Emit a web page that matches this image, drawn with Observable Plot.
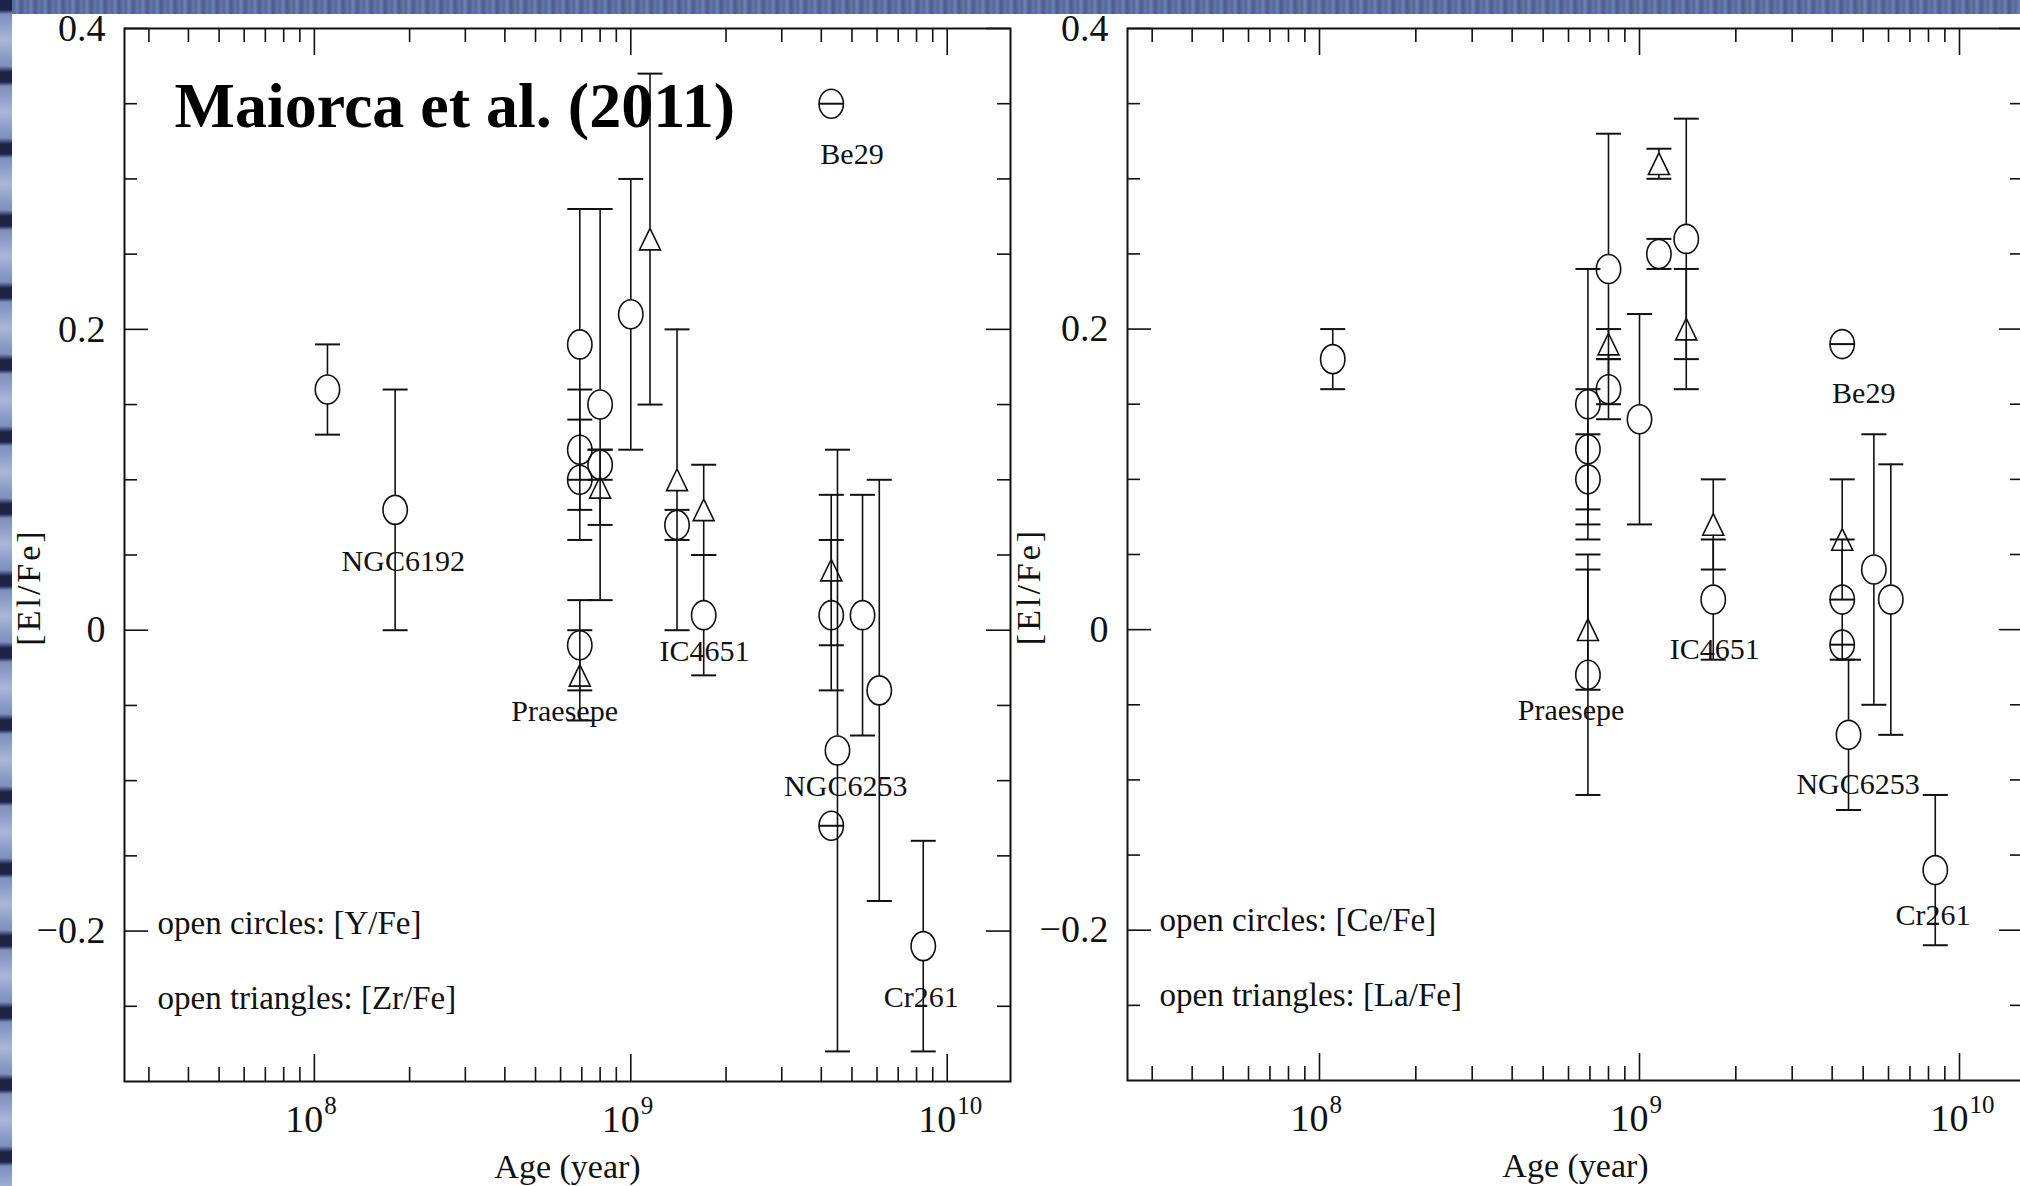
<!DOCTYPE html>
<html>
<head>
<meta charset="utf-8">
<script src="https://cdn.jsdelivr.net/npm/d3@7"></script>
<script src="https://cdn.jsdelivr.net/npm/@observablehq/plot@0.6"></script>
<style>
  html, body { margin: 0; padding: 0; background: #fff; overflow: hidden; }
  #page { position: relative; width: 2020px; height: 1186px; overflow: hidden; background: #fff; }
  #bgTop { position: absolute; left: 0; top: 0; width: 2020px; height: 14px;
    background: repeating-linear-gradient(90deg, #56679c 0px, #7182b5 3px, #4b5b90 7px, #65769f 11px, #56679c 14px); }
  #bgLeft { position: absolute; left: 0; top: 0; width: 12px; height: 1186px;
    background: repeating-linear-gradient(180deg, #1c2547 0px, #1c2547 10px, #7d8dbd 14px, #a9b6d9 40px, #7d8dbd 66px, #1c2547 72px); }
  #left { position: absolute; left: 0; top: 0; width: 1040px; height: 1186px; }
  #right { position: absolute; left: 1000px; top: 0; width: 1030px; height: 1186px; }
</style>
</head>
<body>
<div id="page">
  <div id="left"></div>
  <div id="right"></div>
  <div id="bgTop"></div>
  <div id="bgLeft"></div>
</div>
<script>
// ---------- data: left panel ([Y/Fe] circles, [Zr/Fe] triangles) ----------
const yAges   = [1.1e8, 1.8e8, 6.9e8, 6.9e8, 6.9e8, 6.9e8, 8.0e8, 8.0e8, 1.0e9, 1.4e9, 1.7e9, 4.3e9, 4.3e9, 4.3e9, 4.5e9, 5.4e9, 6.1e9, 8.4e9];
const yFe     = [0.16, 0.08, 0.19, 0.12, 0.10, -0.01, 0.15, 0.11, 0.21, 0.07, 0.01, 0.35, 0.01, -0.13, -0.08, 0.01, -0.04, -0.21];
const yFeErr  = [0.03, 0.08, 0.09, 0.04, 0.04, 0.03, 0.13, 0.01, 0.09, 0.01, 0.04, 0, 0.05, 0, 0.20, 0.08, 0.14, 0.07];
const zrAges  = [6.9e8, 8.0e8, 1.15e9, 1.4e9, 1.7e9, 4.3e9];
const zrFe    = [-0.03, 0.095, 0.26, 0.10, 0.08, 0.04];
const zrFeErr = [0.03, 0.025, 0.11, 0.10, 0.03, 0.05];
const leftNames    = ["NGC6192", "Praesepe", "IC4651", "Be29", "NGC6253", "Cr261"];
const leftNameAges = [1.91e8, 6.18e8, 1.71e9, 5.0e9, 4.78e9, 8.28e9];
const leftNameVals = [0.046, -0.054, -0.014, 0.316, -0.104, -0.244];
const leftLegend   = ["open circles: [Y/Fe]", "open triangles: [Zr/Fe]"];
const leftLegendY  = [-0.195, -0.245];
const titleText    = ["Maiorca et al. (2011)"];

// ---------- data: right panel ([Ce/Fe] circles, [La/Fe] triangles) ----------
const ceAges  = [1.1e8, 6.9e8, 6.9e8, 6.9e8, 6.9e8, 8.0e8, 8.0e8, 1.0e9, 1.15e9, 1.4e9, 1.7e9, 4.3e9, 4.3e9, 4.3e9, 4.5e9, 5.4e9, 6.1e9, 8.4e9];
const ceFe    = [0.18, 0.15, 0.12, 0.10, -0.03, 0.24, 0.16, 0.14, 0.25, 0.26, 0.02, 0.19, 0.02, -0.01, -0.07, 0.04, 0.02, -0.16];
const ceFeErr = [0.02, 0.09, 0.04, 0.03, 0.08, 0.09, 0.02, 0.07, 0.01, 0.08, 0.04, 0, 0.04, 0, 0.05, 0.09, 0.09, 0.05];
const laAges  = [6.9e8, 8.0e8, 1.15e9, 1.4e9, 1.7e9, 4.3e9];
const laFe    = [0.0, 0.19, 0.31, 0.20, 0.07, 0.06];
const laFeErr = [0.04, 0.01, 0.01, 0.04, 0.03, 0.04];
const rightNames    = ["Praesepe", "IC4651", "Be29", "NGC6253", "Cr261"];
const rightNameAges = [6.11e8, 1.72e9, 5.02e9, 4.82e9, 8.26e9];
const rightNameVals = [-0.054, -0.013, 0.157, -0.103, -0.19];
const rightLegend   = ["open circles: [Ce/Fe]", "open triangles: [La/Fe]"];
const rightLegendY  = [-0.1935, -0.2435];

// ---------- axes / ticks ----------
const majorX = [1e8, 1e9, 1e10];
const minorX = [3e7, 4e7, 5e7, 6e7, 7e7, 8e7, 9e7, 2e8, 3e8, 4e8, 5e8, 6e8, 7e8, 8e8, 9e8, 2e9, 3e9, 4e9, 5e9, 6e9, 7e9, 8e9, 9e9];
const majorY = [-0.2, 0, 0.2, 0.4];
const minorY = [-0.25, -0.15, -0.1, -0.05, 0.05, 0.1, 0.15, 0.25, 0.3, 0.35];
const xDomain = [Math.pow(10, 7.4), Math.pow(10, 10.2)];
const yDomain = [-0.3, 0.4];
const xTitle = ["Age (year)"];
const yTitle = ["[El/Fe]"];

// ---------- symbols ----------
const ink = "#111";
const FONT = "'Liberation Serif', 'Times New Roman', serif";
const ellipseSym = {
  draw(ctx, size) {
    const r = Math.sqrt(size / Math.PI), a = r * 0.84, b = r, k = 0.5523;
    ctx.moveTo(a, 0);
    ctx.bezierCurveTo(a, k * b, k * a, b, 0, b);
    ctx.bezierCurveTo(-k * a, b, -a, k * b, -a, 0);
    ctx.bezierCurveTo(-a, -k * b, -k * a, -b, 0, -b);
    ctx.bezierCurveTo(k * a, -b, a, -k * b, a, 0);
    ctx.closePath();
  }
};
const triSym = {
  draw(ctx, size) {
    const r = Math.sqrt(size / Math.PI), w = r * 0.97;
    ctx.moveTo(0, -r); ctx.lineTo(w, r); ctx.lineTo(-w, r); ctx.closePath();
  }
};
const capSym = {
  draw(ctx, size) {
    const r = Math.sqrt(size / Math.PI);
    ctx.moveTo(-r, 0); ctx.lineTo(r, 0);
  }
};

function rows(ages, vals, errs) { return ages.map((a, i) => ({a, v: vals[i], e: errs[i]})); }

function errMarks(data, gap) {
  const withErr = data.filter(d => d.e > 0);
  return [
    Plot.ruleX(withErr, {x: "a", y1: d => d.v + d.e, y2: d => d.v, insetBottom: gap, stroke: ink, strokeWidth: 1.6}),
    Plot.ruleX(withErr, {x: "a", y1: d => d.v, y2: d => d.v - d.e, insetTop: gap, stroke: ink, strokeWidth: 1.6}),
    Plot.dot(data, {x: "a", y: d => d.v + d.e, symbol: capSym, r: 12.5, stroke: ink, strokeWidth: 2, fill: "none"}),
    Plot.dot(withErr, {x: "a", y: d => d.v - d.e, symbol: capSym, r: 12.5, stroke: ink, strokeWidth: 2, fill: "none"})
  ];
}

function panel(cfg) {
  const {width, marginLeft, marginRight, marginTop, marginBottom} = cfg;
  const fw = width - marginLeft - marginRight;
  const fh = 1186 - marginTop - marginBottom;
  const circ = rows(cfg.cAges, cfg.cVals, cfg.cErrs);
  const tri = rows(cfg.tAges, cfg.tVals, cfg.tErrs);
  const names = cfg.names.map((n, i) => ({n, a: cfg.nameAges[i], v: cfg.nameVals[i]}));
  const legend = cfg.legend.map((t, i) => ({t, v: cfg.legendY[i]}));
  const tk = {stroke: ink, strokeWidth: 1.6};
  const marks = [
    Plot.frame({stroke: ink, strokeWidth: 2}),
    // x ticks bottom & top
    Plot.tickX(majorX, {x: d => d, insetTop: fh - 27, ...tk}),
    Plot.tickX(majorX, {x: d => d, insetBottom: fh - 27, ...tk}),
    Plot.tickX(minorX, {x: d => d, insetTop: fh - 14, ...tk}),
    Plot.tickX(minorX, {x: d => d, insetBottom: fh - 14, ...tk}),
    // y ticks left & right
    Plot.tickY(majorY, {y: d => d, insetRight: fw - 24, ...tk}),
    Plot.tickY(majorY, {y: d => d, insetLeft: fw - 24, ...tk}),
    Plot.tickY(minorY, {y: d => d, insetRight: fw - 13, ...tk}),
    Plot.tickY(minorY, {y: d => d, insetLeft: fw - 13, ...tk}),
    // y tick labels
    Plot.text(majorY, {y: d => d, frameAnchor: "left", dx: -19, textAnchor: "end", lineAnchor: "middle",
      text: d => d === 0 ? "0" : d3.format(".1f")(d), fontSize: 38, fill: ink, fontFamily: FONT}),
    // x tick labels 10^n
    Plot.text(majorX, {x: d => d, frameAnchor: "bottom", dx: 9, dy: 50, textAnchor: "end", lineAnchor: "bottom",
      text: () => "10", fontSize: 38, fill: ink, fontFamily: FONT}),
    Plot.text(majorX, {x: d => d, frameAnchor: "bottom", dx: 10, dy: 32, textAnchor: "start", lineAnchor: "bottom",
      text: d => String(Math.round(Math.log10(d))), fontSize: 25, fill: ink, fontFamily: FONT}),
    // axis titles
    Plot.text(xTitle, {frameAnchor: "bottom", dy: 86, lineAnchor: "middle", text: d => d, fontSize: 34, fill: ink, fontFamily: FONT}),
    Plot.text(yTitle, {frameAnchor: "left", dx: cfg.yTitleDx, dy: 32, rotate: -90, textAnchor: "middle", lineAnchor: "middle",
      text: d => d, fontSize: 34, fill: ink, fontFamily: FONT}),
    // error bars and symbols
    ...errMarks(circ, 14.5),
    ...errMarks(tri, 10.8),
    Plot.dot(circ, {x: "a", y: "v", symbol: ellipseSym, r: 14.5, stroke: ink, strokeWidth: 1.6, fill: "none"}),
    Plot.dot(tri, {x: "a", y: "v", symbol: triSym, r: 10.8, stroke: ink, strokeWidth: 1.6, fill: "none"}),
    // cluster names
    Plot.text(names, {x: "a", y: "v", text: "n", textAnchor: "middle", lineAnchor: "middle", fontSize: 30, fill: ink, fontFamily: FONT}),
    // legend
    Plot.text(legend, {y: "v", frameAnchor: "left", dx: cfg.legendDx, text: "t", textAnchor: "start", lineAnchor: "middle",
      fontSize: 33, fill: ink, fontFamily: FONT})
  ];
  if (cfg.title) {
    marks.push(Plot.text(cfg.title, {frameAnchor: "top-left", dx: 50, dy: 98, textAnchor: "start", lineAnchor: "bottom",
      text: d => d, fontSize: 64, fontWeight: "bold", fill: "#000", fontFamily: FONT}));
  }
  const svg = Plot.plot({
    width, height: 1186, marginLeft, marginRight, marginTop, marginBottom,
    x: {type: "log", domain: xDomain, axis: null},
    y: {domain: yDomain, axis: null},
    style: {background: "transparent", fontFamily: FONT, maxWidth: "none", overflow: "visible", color: ink},
    marks
  });
  d3.select(svg).selectAll("text")
    .filter(function () { return this.textContent === yTitle[0]; })
    .attr("letter-spacing", "3px");
  return svg;
}

document.getElementById("left").appendChild(panel({
  width: 1040, marginLeft: 124, marginRight: 30, marginTop: 28, marginBottom: 105,
  cAges: yAges, cVals: yFe, cErrs: yFeErr, tAges: zrAges, tVals: zrFe, tErrs: zrFeErr,
  names: leftNames, nameAges: leftNameAges, nameVals: leftNameVals,
  legend: leftLegend, legendY: leftLegendY, legendDx: 33, yTitleDx: -95, title: titleText
}));
document.getElementById("right").appendChild(panel({
  width: 1030, marginLeft: 127, marginRight: 7, marginTop: 28, marginBottom: 106,
  cAges: ceAges, cVals: ceFe, cErrs: ceFeErr, tAges: laAges, tVals: laFe, tErrs: laFeErr,
  names: rightNames, nameAges: rightNameAges, nameVals: rightNameVals,
  legend: rightLegend, legendY: rightLegendY, legendDx: 32, yTitleDx: -98, title: null
}));
</script>
</body>
</html>
